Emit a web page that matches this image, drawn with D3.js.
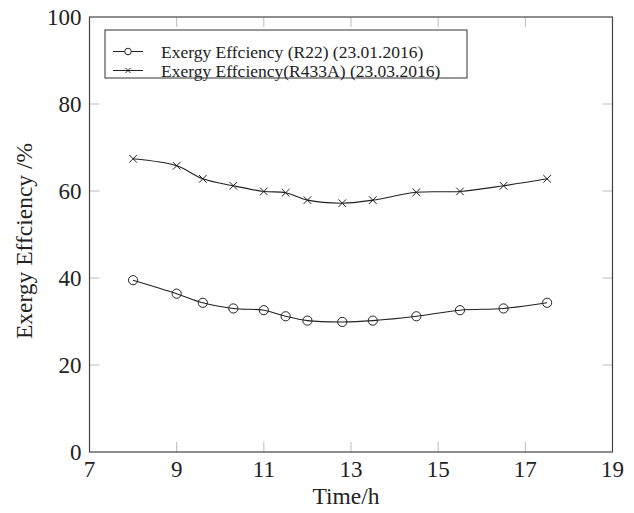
<!DOCTYPE html>
<html>
<head>
<meta charset="utf-8">
<script src="https://cdn.jsdelivr.net/npm/d3@7"></script>
<style>
  body { margin: 0; background: #fff; }
  text { font-family: "Liberation Serif", "Times New Roman", serif; fill: #222; }
</style>
</head>
<body>
<div id="container"></div>
<script>
/* DATA */
const timeR22 = [8, 9, 9.6, 10.3, 11, 11.5, 12, 12.8, 13.5, 14.5, 15.5, 16.5, 17.5]
const effR22 = [39.5, 36.4, 34.3, 33.0, 32.6, 31.2, 30.2, 29.9, 30.2, 31.2, 32.6, 33.0, 34.3]
const timeR433A = [8, 9, 9.6, 10.3, 11, 11.5, 12, 12.8, 13.5, 14.5, 15.5, 16.5, 17.5]
const effR433A = [67.4, 65.8, 62.8, 61.2, 59.9, 59.6, 57.9, 57.2, 57.9, 59.7, 59.9, 61.2, 62.8]
const xTicks = [7, 9, 11, 13, 15, 17, 19]
const yTicks = [0, 20, 40, 60, 80, 100]
const legendLabels = ["Exergy Effciency (R22) (23.01.2016)", "Exergy Effciency(R433A) (23.03.2016)"]

/* CONSTANTS */
const width = 634,
  height = 513,
  margin = { top: 17, bottom: 61, left: 89.5, right: 21.5 }

const svg = d3.select("#container")
  .append("svg")
  .attr("width", width)
  .attr("height", height)

//scales
const xScale = d3.scaleLinear()
  .domain([7, 19])
  .range([margin.left, width - margin.right])

const yScale = d3.scaleLinear()
  .domain([0, 100])
  .range([height - margin.bottom, margin.top])

const x0 = xScale.range()[0], x1 = xScale.range()[1]
const y0 = yScale.range()[0], y1 = yScale.range()[1]
const tickLen = 10

//ticks on all four sides, pointing inward
svg.append("g")
  .selectAll("g")
  .data(xTicks.slice(1, -1))
  .join(enter => {
    const g = enter.append("g")
    g.append("line").attr("x1", d => xScale(d)).attr("x2", d => xScale(d))
      .attr("y1", y0).attr("y2", y0 - tickLen)
    g.append("line").attr("x1", d => xScale(d)).attr("x2", d => xScale(d))
      .attr("y1", y1).attr("y2", y1 + tickLen)
    return g
  })
  .attr("stroke", "#bbb")
  .attr("stroke-width", 1)

svg.append("g")
  .selectAll("g")
  .data(yTicks.slice(1, -1))
  .join(enter => {
    const g = enter.append("g")
    g.append("line").attr("y1", d => yScale(d)).attr("y2", d => yScale(d))
      .attr("x1", x0).attr("x2", x0 + tickLen)
    g.append("line").attr("y1", d => yScale(d)).attr("y2", d => yScale(d))
      .attr("x1", x1).attr("x2", x1 - tickLen)
    return g
  })
  .attr("stroke", "#bbb")
  .attr("stroke-width", 1)

//frame
svg.append("rect")
  .attr("x", x0)
  .attr("y", y1)
  .attr("width", x1 - x0)
  .attr("height", y0 - y1)
  .attr("fill", "none")
  .attr("stroke", "#444")
  .attr("stroke-width", 1.2)

//tick labels
svg.append("g")
  .selectAll("text")
  .data(xTicks)
  .join("text")
  .attr("x", d => xScale(d))
  .attr("y", y0 + 25)
  .attr("text-anchor", "middle")
  .attr("font-size", "23px")
  .text(d => d)

svg.append("g")
  .selectAll("text")
  .data(yTicks)
  .join("text")
  .attr("x", x0 - 8)
  .attr("y", d => yScale(d))
  .attr("dy", "0.35em")
  .attr("text-anchor", "end")
  .attr("font-size", "23px")
  .text(d => d)

//axis titles
svg.append("text")
  .attr("x", (x0 + x1) / 2 - 5)
  .attr("y", 504)
  .attr("text-anchor", "middle")
  .attr("font-size", "23.5px")
  .text("Time/h")

svg.append("text")
  .attr("transform", "translate(24, 241) rotate(-90)")
  .attr("text-anchor", "middle")
  .attr("dy", "0.35em")
  .attr("font-size", "23.5px")
  .text("Exergy Effciency /%")

//line generator
const line = d3.line()
  .x(d => xScale(d[0]))
  .y(d => yScale(d[1]))
  .curve(d3.curveCatmullRom.alpha(0.5))

const dataR22 = timeR22.map((t, i) => [t, effR22[i]])
const dataR433A = timeR433A.map((t, i) => [t, effR433A[i]])

svg.append("path")
  .datum(dataR22)
  .attr("d", line)
  .attr("fill", "none")
  .attr("stroke", "#222")
  .attr("stroke-width", 1.1)

svg.append("path")
  .datum(dataR433A)
  .attr("d", line)
  .attr("fill", "none")
  .attr("stroke", "#222")
  .attr("stroke-width", 1.1)

//markers
const cross = d3.symbol().type(d3.symbolX).size(40)

svg.append("g")
  .selectAll("circle")
  .data(dataR22)
  .join("circle")
  .attr("cx", d => xScale(d[0]))
  .attr("cy", d => yScale(d[1]))
  .attr("r", 4.6)
  .attr("fill", "none")
  .attr("stroke", "#222")
  .attr("stroke-width", 1)

svg.append("g")
  .selectAll("path")
  .data(dataR433A)
  .join("path")
  .attr("transform", d => `translate(${xScale(d[0])},${yScale(d[1])})`)
  .attr("d", cross)
  .attr("fill", "none")
  .attr("stroke", "#222")
  .attr("stroke-width", 1)

//legend
const legend = svg.append("g")

legend.append("rect")
  .attr("x", 105)
  .attr("y", 30)
  .attr("width", 362)
  .attr("height", 48)
  .attr("fill", "#fff")
  .attr("stroke", "#333")
  .attr("stroke-width", 1)

const rows = legend.selectAll(".row")
  .data(legendLabels)
  .join("g")
  .attr("class", "row")
  .attr("transform", (d, i) => `translate(0, ${51.5 + i * 19})`)

rows.append("line")
  .attr("x1", 113)
  .attr("x2", 143)
  .attr("stroke", "#222")
  .attr("stroke-width", 1)

rows.filter((d, i) => i === 0)
  .append("circle")
  .attr("cx", 128)
  .attr("r", 3.3)
  .attr("fill", "#fff")
  .attr("stroke", "#222")

rows.filter((d, i) => i === 1)
  .append("path")
  .attr("transform", "translate(128,0)")
  .attr("d", d3.symbol().type(d3.symbolX).size(18))
  .attr("fill", "none")
  .attr("stroke", "#222")

rows.append("text")
  .attr("x", 161)
  .attr("dy", "0.35em")
  .attr("font-size", "17.5px")
  .text(d => d)
</script>
</body>
</html>
